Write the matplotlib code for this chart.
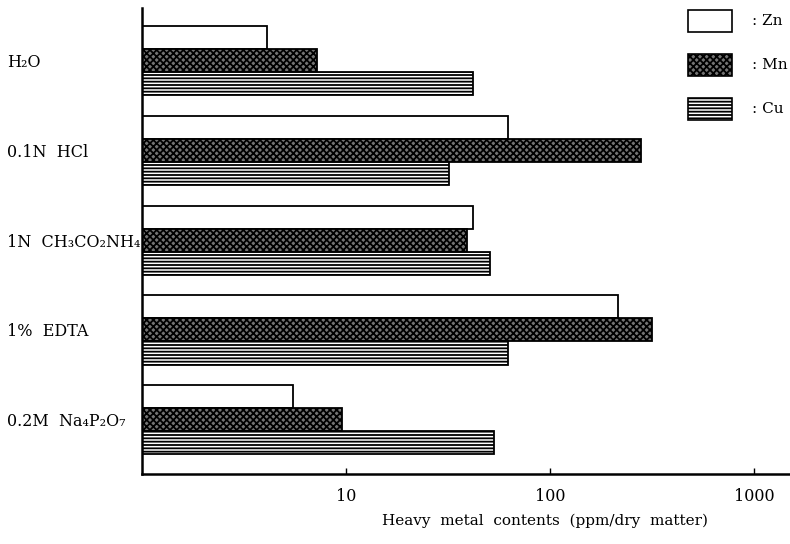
import numpy as np
import matplotlib
matplotlib.use('Agg')
from matplotlib import pyplot as plt
from matplotlib.patches import Rectangle

plt.rcParams['font.family'] = ['DejaVu Serif']
plt.rcParams['hatch.linewidth'] = 1.3

extractants = ['H\u2082O', '0.1N  HCl', '1N  CH\u2083CO\u2082NH\u2084', '1%  EDTA',
               '0.2M  Na\u2084P\u2082O\u2087']
zn = [4.1, 62, 42, 215, 5.5]
mn = [7.2, 280, 39, 315, 9.5]
cu = [42, 32, 51, 62, 53]
metals = ['Zn', 'Mn', 'Cu']
xticks = [10, 100, 1000]

styles = [dict(facecolor='white', hatch=None),
          dict(facecolor='#747474', hatch='xxxxx'),
          dict(facecolor='white', hatch='-----')]

fig = plt.figure(figsize=(7.9, 5.44), dpi=100)
ax = fig.add_axes([0.18, 0.129, 0.82, 0.856])

y = np.arange(len(extractants))
h = 0.256
base = 1.0
for k, vals in enumerate([zn, mn, cu]):
  # bars start at the left edge of the log axis (x = 1)
  ax.barh(y + (k - 1) * h, np.array(vals) - base, height=h, left=base,
          edgecolor='black', linewidth=1.3, **styles[k])

ax.set_xscale('log')
ax.set_xlim(1, 1500)
ax.set_ylim(4.6, -0.58)
ax.set_xticks(xticks)
ax.set_xticklabels([str(t) for t in xticks], fontsize=11.5)
ax.minorticks_off()
ax.tick_params(axis='x', direction='in', length=4, width=1, pad=10)
ax.set_yticks(y)
ax.set_yticklabels(extractants, fontsize=11.5, ha='left')
ax.tick_params(axis='y', length=0, pad=97)
for spine in ['top', 'right']:
  ax.spines[spine].set_visible(False)
for spine in ['left', 'bottom']:
  ax.spines[spine].set_linewidth(1.8)
ax.set_xlabel('Heavy  metal  contents  (ppm/dry  matter)', fontsize=11)
ax.xaxis.set_label_coords(0.622, -0.085)

# legend boxes on the upper right
for k, name in enumerate(metals):
  top = 10 + k * 44
  fig.add_artist(Rectangle((688 / 790, 1 - (top + 22) / 544), 44 / 790, 22 / 544,
                           transform=fig.transFigure, edgecolor='black',
                           linewidth=1.2, **styles[k]))
  fig.text(752 / 790, 1 - (top + 11) / 544, ': ' + name, fontsize=11,
           va='center', ha='left')

fig.savefig('out.png', dpi=100)
